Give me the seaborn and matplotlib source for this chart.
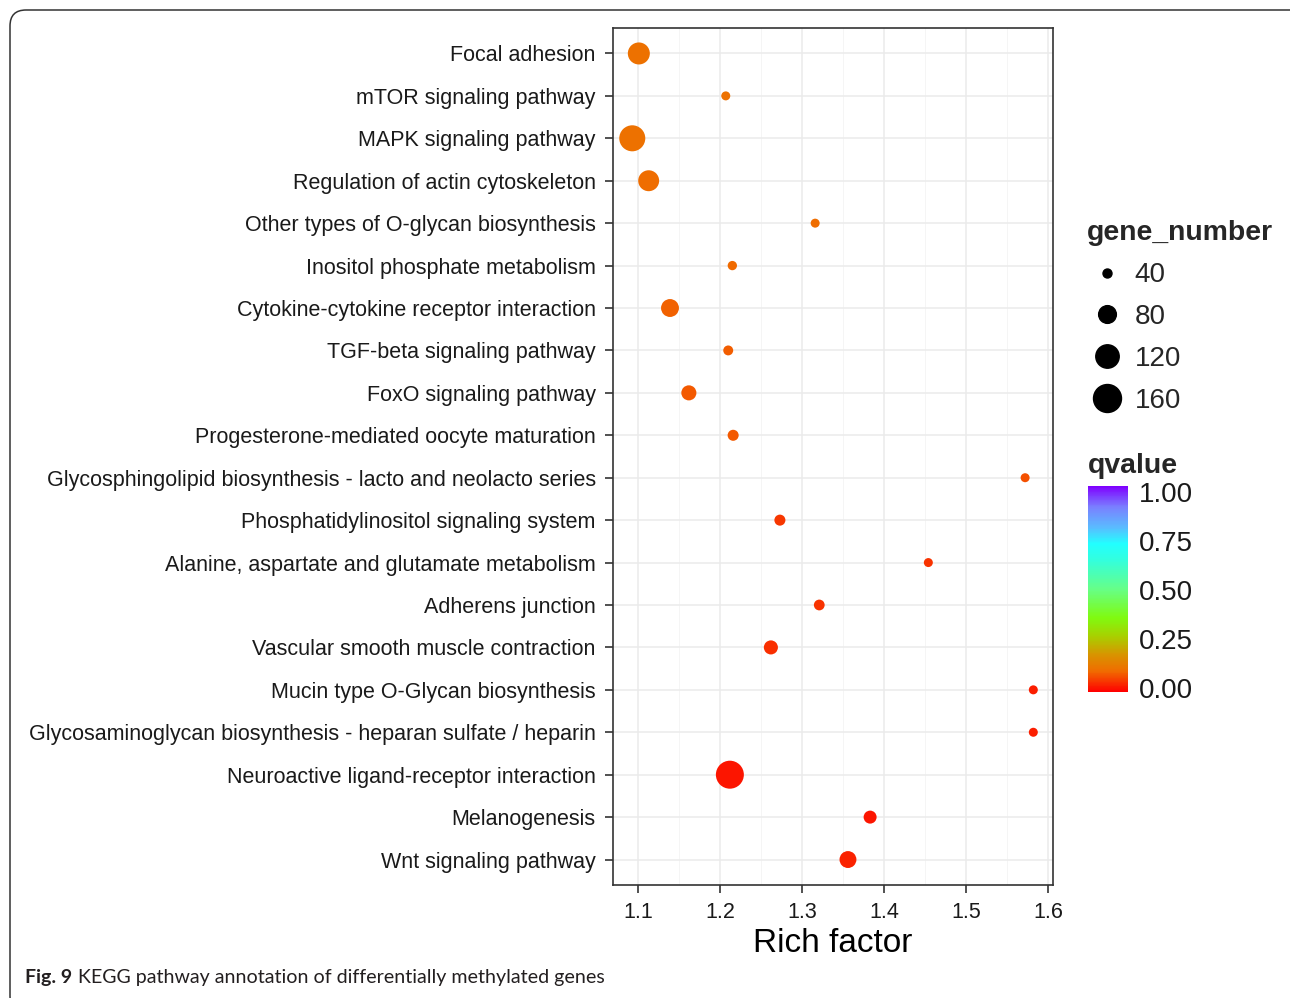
import numpy as np
import pandas as pd
import matplotlib
matplotlib.use("Agg")
import matplotlib.pyplot as plt
import matplotlib.colors as mcolors
import matplotlib.transforms as mtransforms
from matplotlib.lines import Line2D
from matplotlib.patches import FancyBboxPatch
import seaborn as sns

# Data (top to bottom)
pathways = [
    "Focal adhesion", "mTOR signaling pathway", "MAPK signaling pathway",
    "Regulation of actin cytoskeleton", "Other types of O-glycan biosynthesis",
    "Inositol phosphate metabolism", "Cytokine-cytokine receptor interaction",
    "TGF-beta signaling pathway", "FoxO signaling pathway",
    "Progesterone-mediated oocyte maturation",
    "Glycosphingolipid biosynthesis - lacto and neolacto series",
    "Phosphatidylinositol signaling system",
    "Alanine, aspartate and glutamate metabolism", "Adherens junction",
    "Vascular smooth muscle contraction", "Mucin type O-Glycan biosynthesis",
    "Glycosaminoglycan biosynthesis - heparan sulfate / heparin",
    "Neuroactive ligand-receptor interaction", "Melanogenesis",
    "Wnt signaling pathway",
]
rich_factor = [1.101, 1.207, 1.093, 1.113, 1.316, 1.215, 1.139, 1.210, 1.162, 1.216,
               1.572, 1.273, 1.454, 1.321, 1.262, 1.582, 1.582, 1.212, 1.383, 1.356]
gene_number = [109, 37, 142, 101, 32, 41, 81, 43, 65, 47,
               30, 47, 33, 46, 60, 32, 32, 180, 55, 75]
qvalue = [0.098, 0.096, 0.097, 0.090, 0.088, 0.085, 0.075, 0.074, 0.070, 0.068,
          0.060, 0.035, 0.033, 0.030, 0.028, 0.012, 0.010, 0.001, 0.004, 0.015]

size_breaks = [40, 80, 120, 160]
q_ticks = [0.0, 0.25, 0.5, 0.75, 1.0]

df = pd.DataFrame({"pathway": pathways, "rich": rich_factor,
                   "gene_number": gene_number, "qvalue": qvalue})

# rainbow-like gradient (red -> green -> cyan -> purple)
rainbow = mcolors.LinearSegmentedColormap.from_list("qrainbow", [
    (0.0, "#FF0000"), (0.1, "#F06C00"), (0.18, "#D89400"), (0.27, "#A8D000"),
    (0.36, "#80FA10"), (0.5, "#66FF88"), (0.64, "#33FFDD"), (0.72, "#22FFFF"),
    (0.8, "#5ABBFF"), (0.9, "#7A80FF"), (1.0, "#7F00FF"),
])
qnorm = mcolors.Normalize(-0.02, 1.03)
size_range = (42, 406)
size_norm = (40, 160)

sns.set_theme(style="white")
plt.rcParams["font.family"] = ["Liberation Sans", "DejaVu Sans"]

W, H = 1290, 998
fig = plt.figure(figsize=(W / 100, H / 100), dpi=100)
ax = fig.add_axes([613 / W, 1 - 885 / H, 440 / W, 857 / H])

sns.scatterplot(data=df, x="rich", y="pathway", hue="qvalue", size="gene_number",
                palette=rainbow, hue_norm=qnorm, sizes=size_range,
                size_norm=size_norm, linewidth=0, legend=False, ax=ax, zorder=3)

ax.set_xlim(1.0695, 1.606)
ax.set_ylim(len(pathways) - 0.4, -0.6)
ax.set_xticks([1.1, 1.2, 1.3, 1.4, 1.5, 1.6])
ax.set_xticks([1.15, 1.25, 1.35, 1.45, 1.55], minor=True)
ax.set_yticks(range(len(pathways)))
ax.set_yticklabels(pathways)
ax.grid(True, which="major", color="#EBEBEB", lw=1.1, zorder=0)
ax.grid(True, which="minor", axis="x", color="#F5F5F5", lw=0.7, zorder=0)
ax.set_axisbelow(True)
for s in ax.spines.values():
    s.set_visible(True)
    s.set_color("#333333")
    s.set_linewidth(1.2)
ax.tick_params(axis="both", which="major", length=5.5, width=1.2, color="#333333",
               labelsize=15.5, labelcolor="#1a1a1a", left=True, bottom=True)
ax.tick_params(axis="y", pad=7)
ax.tick_params(axis="x", pad=7)
ax.tick_params(which="minor", length=0)
ax.set_ylabel("")
ax.set_xlabel("Rich factor", fontsize=24, color="black", labelpad=3.5)

# size legend
def area(n):
    return size_range[0] + (n - size_norm[0]) * (size_range[1] - size_range[0]) / (size_norm[1] - size_norm[0])

handles = [Line2D([], [], marker="o", linestyle="", color="black",
                  markersize=np.sqrt(area(n))) for n in size_breaks]
leg = fig.legend(handles, [str(n) for n in size_breaks], title="gene_number",
                 loc="upper left", bbox_to_anchor=(1067 / W, 1 - 201 / H),
                 frameon=False, fontsize=20, labelspacing=0.57, handletextpad=0.28,
                 borderpad=0.2, handlelength=1.45, alignment="left",
                 title_fontproperties={"weight": "bold", "size": 20.4})

# colour bar
cax = fig.add_axes([1088 / W, 1 - 692 / H, 40 / W, 206 / H])
sm = plt.cm.ScalarMappable(norm=qnorm, cmap=rainbow)
cbar = fig.colorbar(sm, cax=cax, ticks=q_ticks, format="%.2f")
cbar.outline.set_visible(False)
cax.yaxis.set_ticks_position("both")
cax.tick_params(axis="y", direction="in", color="white", length=5, width=1,
                labelsize=20, labelcolor="#1a1a1a", pad=8,
                labelleft=False, labelright=True)
fig.text(1088 / W, 1 - 466 / H, "qvalue", fontsize=20.4, fontweight="bold",
         va="center", ha="left")

# rounded frame and caption
frame = FancyBboxPatch((10, -14), W + 20, H - 10 + 14,
                       boxstyle="round,pad=0,rounding_size=16",
                       transform=mtransforms.IdentityTransform(),
                       fill=False, edgecolor="#333333", lw=1.1)
fig.add_artist(frame)

cap_font = ["Lato", "DejaVu Sans"]
t1 = fig.text(25 / W, 1 - 978 / H, "Fig. 9", fontsize=14, fontweight="bold",
              family=cap_font, va="center", ha="left", color="#231F20")
fig.canvas.draw()
bb = t1.get_window_extent()
fig.text((bb.x1 + 6) / W, 1 - 978 / H, "KEGG pathway annotation of differentially methylated genes",
         fontsize=14.1, family=cap_font, va="center", ha="left", color="#231F20")

fig.savefig("out.png", dpi=100)
